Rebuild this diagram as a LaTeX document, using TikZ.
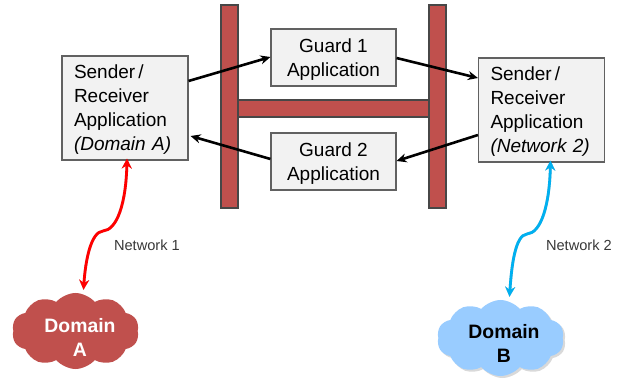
\documentclass[tikz,border=0pt]{standalone}
\usepackage{fontspec}
\setmainfont{Liberation Sans}
\usetikzlibrary{arrows.meta,shapes.symbols,shadows,positioning}
\tikzset{
  x=1pt,y=-1pt,
  appbox/.style={draw=black!62,fill=black!5,line width=1.1pt,inner sep=0pt},
  apptext/.style={yshift=-2pt,inner sep=0pt,font=\fontsize{19}{24}\selectfont},
  guardbox/.style={appbox,minimum width=125pt,minimum height=57pt},
  senderbox/.style={appbox,minimum width=126pt,minimum height=104pt},
  barshape/.style={draw=black!72,fill=barred,line width=1.1pt,inner sep=0pt},
  flow/.style={draw=black,line width=2.6pt,-{Stealth[length=10pt,width=9pt]}},
  netlink/.style={line width=2.8pt,{Stealth[length=10pt,width=10pt]}-{Stealth[length=10pt,width=10pt]}},
  linkshadow/.style={netlink,draw=black,opacity=.22,xshift=1.8pt,yshift=-1.8pt},
  netcloud/.style={cloud,cloud puffs=10,cloud puff arc=100,aspect=1.65,inner sep=0pt,minimum width=127pt,minimum height=76pt},
  cloudtext/.style={align=center,font=\bfseries\fontsize{19.4}{24}\selectfont},
  netlabel/.style={font=\fontsize{14.6}{17}\selectfont,text=black!78}
}
\definecolor{barred}{HTML}{C0504D}
\definecolor{skyfill}{HTML}{99CCFF}
\definecolor{linkblue}{HTML}{00B0F0}
\begin{document}
\begin{tikzpicture}
\useasboundingbox (0,0) rectangle (622,382);
\node[barshape,minimum width=191pt,minimum height=17pt] (hbar) at (333.5,108.5) {};
\node[barshape,minimum width=17pt,minimum height=203pt] (lbar) at (229.5,106.5) {};
\node[barshape,minimum width=17pt,minimum height=203pt] (rbar) at (437.5,106.5) {};
\node[guardbox,label={[apptext,align=center]center:Guard 1\\Application}] (g1) at (333.5,57.5) {};
\node[guardbox,label={[apptext,align=center]center:Guard 2\\Application}] (g2) at (333.5,161.5) {};
\node[senderbox,label={[apptext,align=left,text width=102pt]center:Sender\,/\\Receiver\\Application\\\textit{(Domain A)}}] (sa) at (125,108) {};
\node[senderbox,label={[apptext,align=left,text width=102pt]center:Sender\,/\\Receiver\\Application\\\textit{(Network 2)}}] (sb) at (541.5,110) {};
\node[netcloud,fill=barred] (ca) at (75.5,331) {};
\node[netcloud,fill=skyfill,drop shadow={shadow xshift=2pt,shadow yshift=-2pt,opacity=.3}] (cb) at (500.5,338) {};
\node[cloudtext,text=white] (ta) at (80,337) {Domain\\A};
\node[cloudtext,text=black] (tb) at (504,343) {Domain\\B};
\node[netlabel,anchor=west] (n1) at (110.5,245) {Network 1};
\node[netlabel,anchor=west] (n2) at (542.5,245) {Network 2};
\coordinate (atop) at ([xshift=2pt,yshift=2pt]sa.south);
\coordinate (amid) at (103,231);
\coordinate (abot) at ([xshift=8pt,yshift=3pt]ca.north);
\coordinate (btop) at ([xshift=9pt,yshift=2pt]sb.south);
\coordinate (bmid) at (527,234);
\coordinate (bbot) at ([xshift=9pt,yshift=3pt]cb.north);
\draw[linkshadow] (atop) .. controls +(-1,45) and +(14,-1) .. (amid) .. controls +(-12,1) and +(2,-30) .. (abot);
\draw[netlink,draw=red] (atop) .. controls +(-1,45) and +(14,-1) .. (amid) .. controls +(-12,1) and +(2,-30) .. (abot);
\draw[linkshadow] (btop) .. controls +(-1,45) and +(14,-1) .. (bmid) .. controls +(-12,1) and +(2,-30) .. (bbot);
\draw[netlink,draw=linkblue] (btop) .. controls +(-1,45) and +(14,-1) .. (bmid) .. controls +(-12,1) and +(2,-30) .. (bbot);
\draw[flow] (sa.east |- 0,81) -- (g1.west |- 0,57);
\draw[flow] (g1.east |- 0,58) -- (sb.west |- 0,78);
\draw[flow] (sb.west |- 0,135) -- (g2.east |- 0,161);
\draw[flow] (g2.west |- 0,159) -- ([xshift=2pt]sa.east |- 0,136);
\end{tikzpicture}
\end{document}
